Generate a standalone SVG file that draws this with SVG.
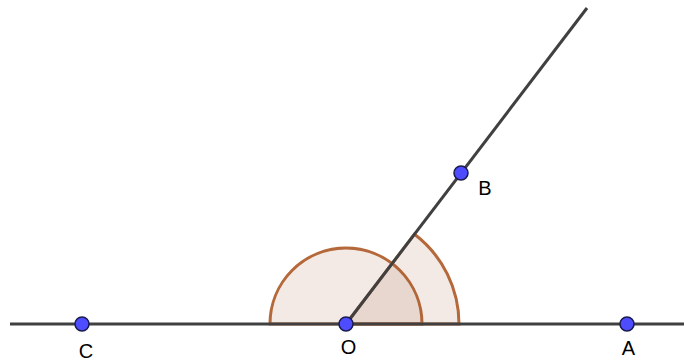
<svg xmlns="http://www.w3.org/2000/svg" width="684" height="360" viewBox="0 0 684 360">
<style>
.ang{fill:rgb(160,82,45);fill-opacity:0.12;stroke:#b5683a;stroke-width:3}
.ln{stroke:#404040;stroke-width:3;fill:none}
.pt{fill:#4d4dff;stroke:#1a1a4d;stroke-width:1.5}
.lb{font-family:"Liberation Sans",Arial,sans-serif;font-size:20px;fill:#000}
</style>
<rect width="684" height="360" fill="#fff"/>
<g id="angles">
<path class="ang" d="M270,324 A76,76 0 0 1 422,324 Z"/>
<path class="ang" d="M459,324 A113,113 0 0 0 414.5,234.2 L346,324 Z"/>
</g>
<g id="connectors">
<line class="ln" x1="10" y1="324" x2="684" y2="324"/>
<line class="ln" x1="346" y1="324" x2="587" y2="8"/>
</g>
<g id="C"><circle class="pt" cx="82" cy="324" r="7"/><text class="lb" x="86" y="358" text-anchor="middle">C</text></g>
<g id="O"><circle class="pt" cx="346" cy="324" r="7"/><text class="lb" x="348.5" y="354" text-anchor="middle">O</text></g>
<g id="A"><circle class="pt" cx="627" cy="324" r="7"/><text class="lb" x="628.5" y="355" text-anchor="middle">A</text></g>
<g id="B"><circle class="pt" cx="461" cy="173" r="7"/><text class="lb" x="485" y="195" text-anchor="middle">B</text></g>
</svg>
